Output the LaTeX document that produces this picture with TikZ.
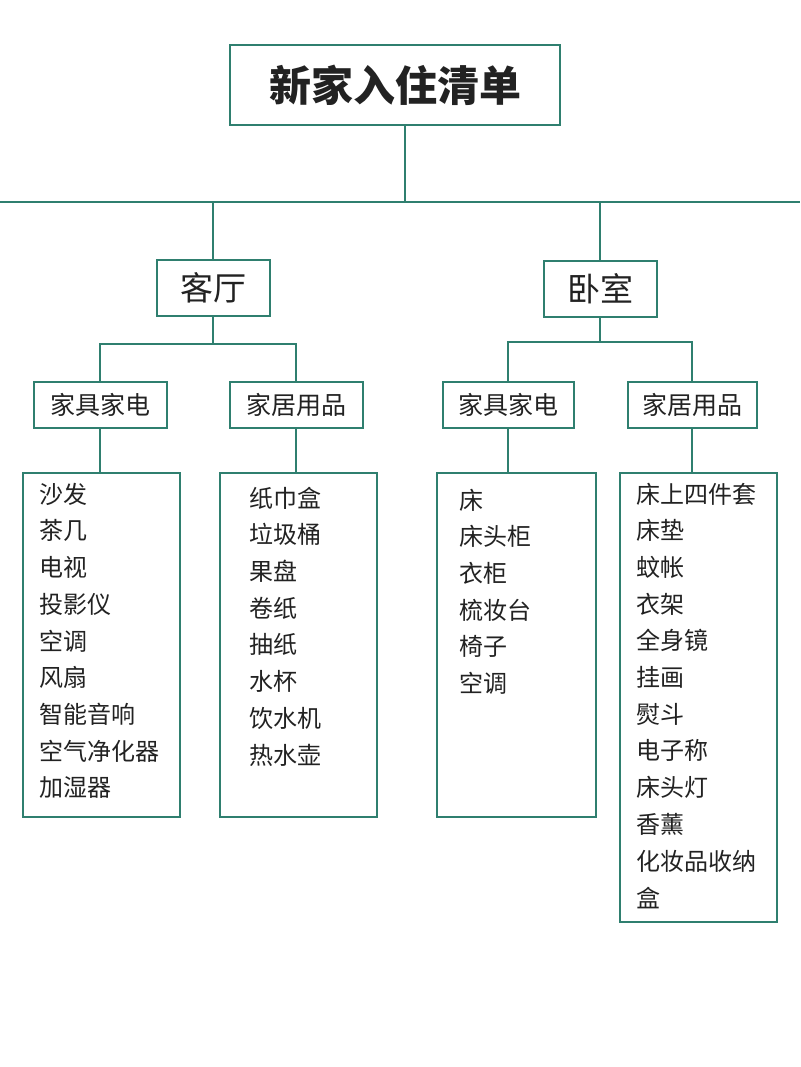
\documentclass[tikz,border=0pt]{standalone}
\usepackage{fontspec}
\newfontfamily\cjk{Noto Sans CJK SC}
\definecolor{tl}{HTML}{2F7F6F}
\definecolor{tx}{HTML}{222222}
\begin{document}
\begin{tikzpicture}[x=1pt,y=-1pt,line width=2pt,
 bx/.style={draw=tl,fill=white,inner sep=0pt,font=\cjk,text=tx},
 ln/.style={draw=tl}]
\useasboundingbox[fill=white] (0,0) rectangle (800,1067);
\node[bx,minimum width=330,minimum height=80,font=\cjk\bfseries\fontsize{42}{48}\selectfont] (t) at (395,85) {新家入住清单};
\node[bx,minimum width=113,minimum height=56,font=\cjk\fontsize{33}{38}\selectfont] (k) at (213,288) {客厅};
\node[bx,minimum width=113,minimum height=56,font=\cjk\fontsize{33}{38}\selectfont] (w) at (600,289) {卧室};
\foreach \n/\x/\w/\s in {a/100/133/家具家电,b/296/133/家居用品,c/508/131/家具家电,d/692/129/家居用品}
  \node[bx,minimum width=\w,minimum height=46,font=\cjk\fontsize{25}{28}\selectfont] (\n) at (\x,405) {\s};
\node[bx,minimum width=157,minimum height=344] (la) at (101.5,645) {};
\node[bx,minimum width=157,minimum height=344] (lb) at (298.5,645) {};
\node[bx,minimum width=159,minimum height=344] (lc) at (516.5,645) {};
\node[bx,minimum width=157,minimum height=449] (ld) at (698.5,697.5) {};
\coordinate (hl) at (0,202); \coordinate (hr) at (800,202);
\coordinate (tb) at ([xshift=10pt]t.south);
\draw[ln] (hl) -- (hr);
\draw[ln] (tb) -- (tb |- hl);
\draw[ln] (k.north |- hl) -- (k.north);
\draw[ln] (w.north |- hl) -- (w.north);
\draw[ln] (k.south) -- ++(0,27) coordinate (k1);
\draw[ln] (a.north) |- (k1) -| (b.north);
\draw[ln] (w.south) -- ++(0,24) coordinate (w1);
\draw[ln] (c.north) |- (w1) -| (d.north);
\draw[ln] (a.south) -- (a.south |- la.north);
\draw[ln] (b.south) -- (b.south |- lb.north);
\draw[ln] (c.south) -- (c.south |- lc.north);
\draw[ln] (d.south) -- (d.south |- ld.north);
\tikzset{it/.style={anchor=west,font=\cjk\fontsize{24}{28}\selectfont,inner sep=0pt,text=tx}}
\foreach \s [count=\i from 0] in {沙发,茶几,电视,投影仪,空调,风扇,智能音响,空气净化器,加湿器}
  \node[it] (pa\i) at (38,494+36.7*\i) {\s};
\foreach \s [count=\i from 0] in {纸巾盒,垃圾桶,果盘,卷纸,抽纸,水杯,饮水机,热水壶}
  \node[it] (pb\i) at (248,498+36.7*\i) {\s};
\foreach \s [count=\i from 0] in {床,床头柜,衣柜,梳妆台,椅子,空调}
  \node[it] (pc\i) at (458,500+36.7*\i) {\s};
\foreach \s [count=\i from 0] in {床上四件套,床垫,蚊帐,衣架,全身镜,挂画,熨斗,电子称,床头灯,香薰,化妆品收纳,盒}
  \node[it] (pd\i) at (635,494+36.7*\i) {\s};
\end{tikzpicture}
\end{document}
